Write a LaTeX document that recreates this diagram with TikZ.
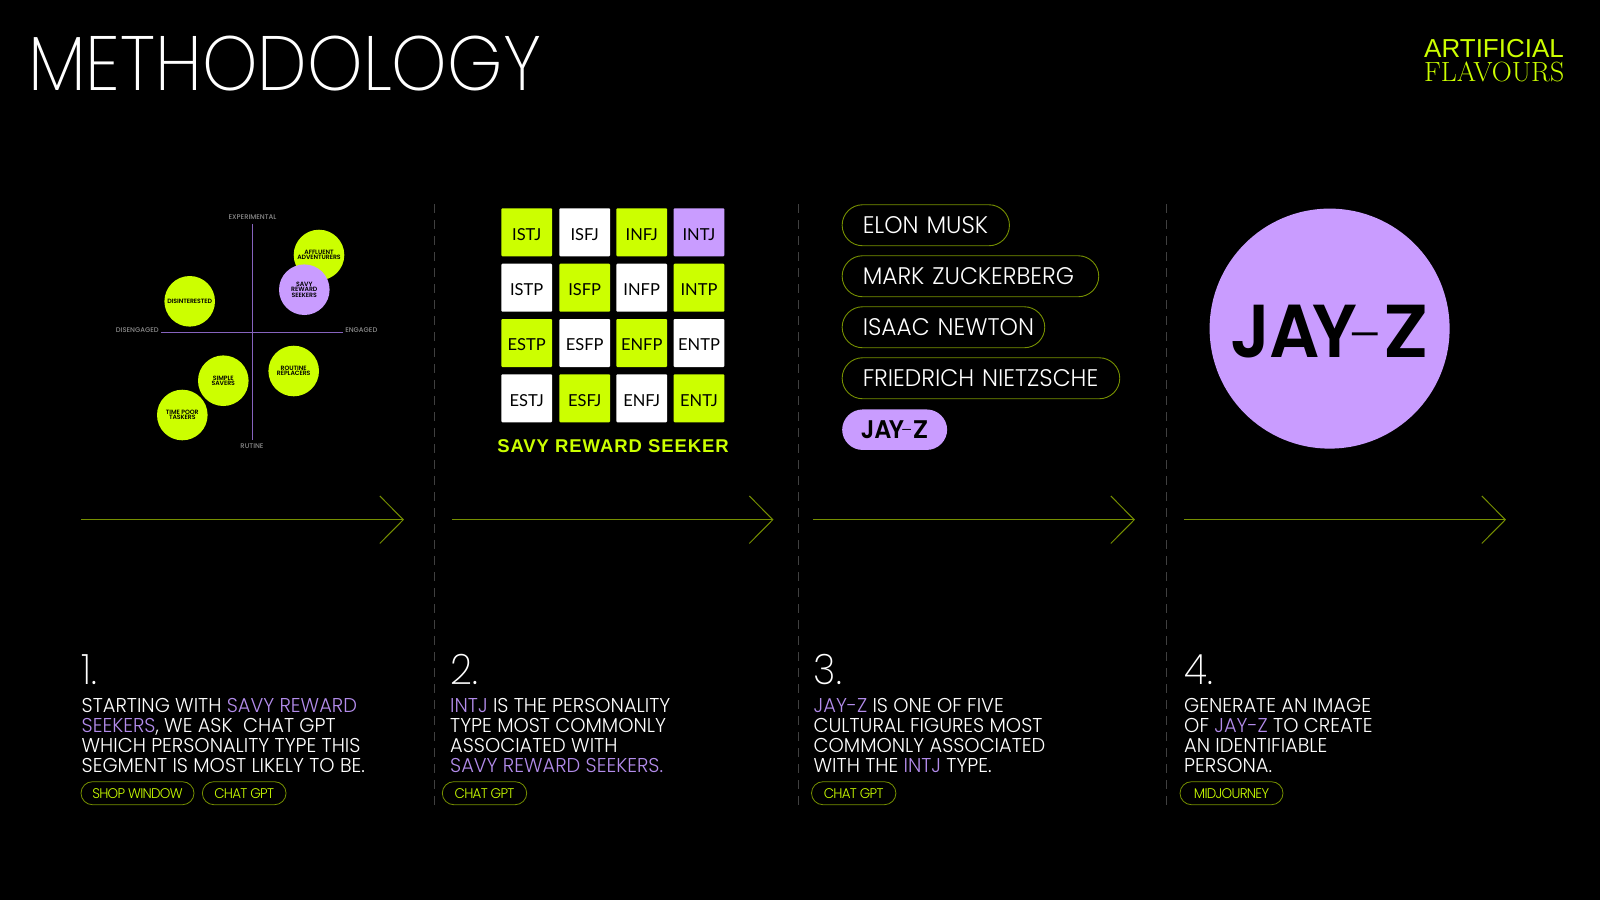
\documentclass[tikz,border=0pt]{standalone}
\usepackage{fontspec}
\usepackage{tikz}
\usetikzlibrary{arrows.meta}
\newfontfamily\titlefont[FakeStretch=0.915]{Poppins ExtraLight}
\newfontfamily\bodyfont[FakeStretch=0.97]{Poppins Light}
\newfontfamily\toolfont[FakeStretch=0.96,LetterSpace=-5]{Poppins Light}
\newfontfamily\cellfont{Lato}
\newfontfamily\logofont{Liberation Sans}
\newfontfamily\boldfont[LetterSpace=-1]{Poppins SemiBold}
\newfontfamily\markfont[FakeStretch=0.94]{Poppins SemiBold}
\newfontfamily\axisfont{Poppins Medium}
\newfontfamily\trackfont[LetterSpace=5]{Liberation Sans Bold}
\newcommand{\jayzmark}{{\markfont J\kern-.01em A\kern-.1em Y\kern-.07em\raisebox{-.06em}{\titlefont -}\kern-.03em \scalebox{1.12}[1]{Z}}}
\definecolor{lime}{HTML}{CCFF00}
\definecolor{lilac}{HTML}{C99CFF}
\definecolor{lilactext}{HTML}{B38CEB}
\definecolor{limeline}{HTML}{768F00}
\definecolor{axisline}{HTML}{8663BE}
\definecolor{dashgrey}{HTML}{404040}
\begin{document}
\begin{tikzpicture}[x=1pt,y=-1pt,>={Straight Barb[length=23.5pt,width=47.5pt,line width=1pt]},
    every node/.style={inner sep=0pt,text=white},
    stepnum/.style={anchor=base west,font=\titlefont\fontsize{42}{42}\selectfont},
    stepbody/.style={anchor=base west,align=left,font=\bodyfont\fontsize{20}{20}\selectfont},
    toolpill/.style={draw=limeline,line width=0.8pt,rounded corners=11.5pt,minimum height=23pt,text=lime,
        font=\toolfont\fontsize{14}{14}\selectfont},
    namepill/.style={draw=limeline,line width=0.9pt,rounded corners=20.5pt,minimum height=41pt,
        anchor=north west,inner xsep=20.6pt,text height=17pt,text depth=0pt,align=left,
        font=\bodyfont\fontsize{24}{24}\selectfont},
    flowline/.style={->,limeline,line width=1.2pt},
    divider/.style={dashgrey,line width=1.4pt,dash pattern=on 9pt off 7pt},
    axis/.style={axisline,line width=0.9pt},
    axislabel/.style={text=black!45!white,font=\axisfont\fontsize{6.8}{6.8}\selectfont},
    segment/.style={circle,fill=lime,minimum size=50.6pt,text=black,align=center,
        font=\boldfont\fontsize{6.2}{5.4}\selectfont},
    mbtilime/.style={fill=lime,rounded corners=1pt,minimum width=50.7pt,minimum height=48pt,text=black,
        text height=15.5pt,text depth=0pt,font=\cellfont\fontsize{16.5}{16.5}\selectfont},
    mbtiwhite/.style={mbtilime,fill=white},
    mbtililac/.style={mbtilime,fill=lilac}]
    \fill[black] (0,0) rectangle (1600,900);
    \useasboundingbox (0,0) rectangle (1600,900);

    \node[anchor=base west,font=\titlefont\fontsize{77}{77}\selectfont] (title) at (28,90.5) {METHODOLOGY};
    \node[anchor=base west,text=lime,font=\logofont\fontsize{26}{26}\selectfont] (logotop) at (1424,57.3) {ARTIFICIAL};
    \node[anchor=base west,text=lime,font=\rmfamily\fontsize{27.8}{27.8}\selectfont] (logobottom) at (1424,81.7) {FLAVOURS};

    \draw[divider] (434.7,204) -- (434.7,805);
    \draw[divider] (798.7,204) -- (798.7,805);
    \draw[divider] (1166.7,204) -- (1166.7,805);

    \node[axislabel] (experimental) at (252.5,217.5) {EXPERIMENTAL};
    \node[axislabel] (disengaged) at (137.3,330.5) {DISENGAGED};
    \node[axislabel] (engaged) at (361.3,330.5) {ENGAGED};
    \node[axislabel] (rutine) at (252,446.5) {RUTINE};
    \coordinate (axistop) at (252.3,224);
    \coordinate (axisbottom) at (252.3,440);
    \coordinate (axisleft) at (161,332.3);
    \coordinate (axisright) at (343,332.3);
    \draw[axis] (axistop) -- (axisbottom);
    \draw[axis] (axisleft) -- (axisright);
    \node[segment] (affluent) at (319,255) {AFFLUENT\\ADVENTURERS};
    \node[segment,fill=lilac] (savy) at (304.3,289.7) {SAVY\\REWARD\\SEEKERS};
    \node[segment] (disinterested) at (189.7,301.3) {DISINTERESTED};
    \node[segment] (routine) at (293.7,371) {ROUTINE\\REPLACERS};
    \node[segment] (simple) at (223.3,380.7) {SIMPLE\\SAVERS};
    \node[segment] (timepoor) at (182.3,415) {TIME POOR\\TASKERS};

    \node[mbtilime] (istj) at (526.7,232.3) {ISTJ};
    \node[mbtiwhite] (isfj) at (584.7,232.3) {ISFJ};
    \node[mbtilime] (infj) at (641.7,232.3) {INFJ};
    \node[mbtililac] (intj) at (699,232.3) {INTJ};
    \node[mbtiwhite] (istp) at (526.7,287.7) {ISTP};
    \node[mbtilime] (isfp) at (584.7,287.7) {ISFP};
    \node[mbtiwhite] (infp) at (641.7,287.7) {INFP};
    \node[mbtilime] (intp) at (699,287.7) {INTP};
    \node[mbtilime] (estp) at (526.7,343) {ESTP};
    \node[mbtiwhite] (esfp) at (584.7,343) {ESFP};
    \node[mbtilime] (enfp) at (641.7,343) {ENFP};
    \node[mbtiwhite] (entp) at (699,343) {ENTP};
    \node[mbtiwhite] (estj) at (526.7,398.3) {ESTJ};
    \node[mbtilime] (esfj) at (584.7,398.3) {ESFJ};
    \node[mbtiwhite] (enfj) at (641.7,398.3) {ENFJ};
    \node[mbtilime] (entj) at (699,398.3) {ENTJ};
    \node[text=lime,font=\trackfont\fontsize{18.5}{18.5}\selectfont] (seeker) at (613,445.7) {SAVY REWARD SEEKER};

    \node[namepill,text width=126.1pt] (musk) at (841.7,204.3) {\mbox{ELON MUSK}};
    \node[namepill,text width=215.4pt] (zuckerberg) at (841.7,255.3) {\mbox{MARK ZUCKERBERG}};
    \node[namepill,text width=161.4pt] (newton) at (841.7,306.3) {\mbox{ISAAC NEWTON}};
    \node[namepill,text width=236.4pt] (nietzsche) at (841.7,357.3) {\mbox{FRIEDRICH NIETZSCHE}};
    \node[namepill,draw=none,fill=lilac,text=black,inner xsep=0pt,align=center,text width=105pt,minimum height=40.5pt,
        text height=17.4pt,font=\fontsize{25.5}{25.5}\selectfont] (jayzpill) at (841.7,409) {\jayzmark};

    \node[circle,fill=lilac,minimum size=240pt,text=black,text height=58.2pt,text depth=0pt,
        font=\fontsize{75}{75}\selectfont] (jayz) at (1329.6,328.6) {\jayzmark};

    \coordinate (flowastart) at (81,519.7);
    \coordinate (flowaend) at (404,519.7);
    \coordinate (flowbstart) at (452,519.7);
    \coordinate (flowbend) at (773.5,519.7);
    \coordinate (flowcstart) at (813,519.7);
    \coordinate (flowcend) at (1135,519.7);
    \coordinate (flowdstart) at (1184,519.7);
    \coordinate (flowdend) at (1506,519.7);
    \draw[flowline] (flowastart) -- (flowaend);
    \draw[flowline] (flowbstart) -- (flowbend);
    \draw[flowline] (flowcstart) -- (flowcend);
    \draw[flowline] (flowdstart) -- (flowdend);

    \node[stepnum] (numa) at (81,684) {1.};
    \node[stepnum] (numb) at (450,684) {2.};
    \node[stepnum] (numc) at (813.5,684) {3.};
    \node[stepnum] (numd) at (1184,684) {4.};

    \node[stepbody] (bodya) at (81.5,772.7)
        {STARTING WITH \textcolor{lilactext}{SAVY REWARD}\\
         \textcolor{lilactext}{SEEKERS}, WE ASK\ \ CHAT GPT\\
         WHICH PERSONALITY TYPE THIS\\
         SEGMENT IS MOST LIKELY TO BE.};
    \node[stepbody] (bodyb) at (450,772.7)
        {\textcolor{lilactext}{INTJ} IS THE PERSONALITY\\
         TYPE MOST COMMONLY\\
         ASSOCIATED WITH\\
         \textcolor{lilactext}{SAVY REWARD SEEKERS.}};
    \node[stepbody] (bodyc) at (813.5,772.7)
        {\textcolor{lilactext}{JAY-Z} IS ONE OF FIVE\\
         CULTURAL FIGURES MOST\\
         COMMONLY ASSOCIATED\\
         WITH THE \textcolor{lilactext}{INTJ} TYPE.};
    \node[stepbody] (bodyd) at (1184,772.7)
        {GENERATE AN IMAGE\\
         OF \textcolor{lilactext}{JAY-Z} TO CREATE\\
         AN IDENTIFIABLE\\
         PERSONA.};

    \node[toolpill,minimum width=113pt] (shopwindow) at (137.5,793.2) {SHOP WINDOW};
    \node[toolpill,minimum width=83.7pt] (chatgpta) at (244.2,793.2) {CHAT GPT};
    \node[toolpill,minimum width=84.4pt] (chatgptb) at (484.5,793.2) {CHAT GPT};
    \node[toolpill,minimum width=84.4pt] (chatgptc) at (853.7,793.2) {CHAT GPT};
    \node[toolpill,minimum width=103pt] (midjourney) at (1231.5,793.2) {MIDJOURNEY};
\end{tikzpicture}
\end{document}
